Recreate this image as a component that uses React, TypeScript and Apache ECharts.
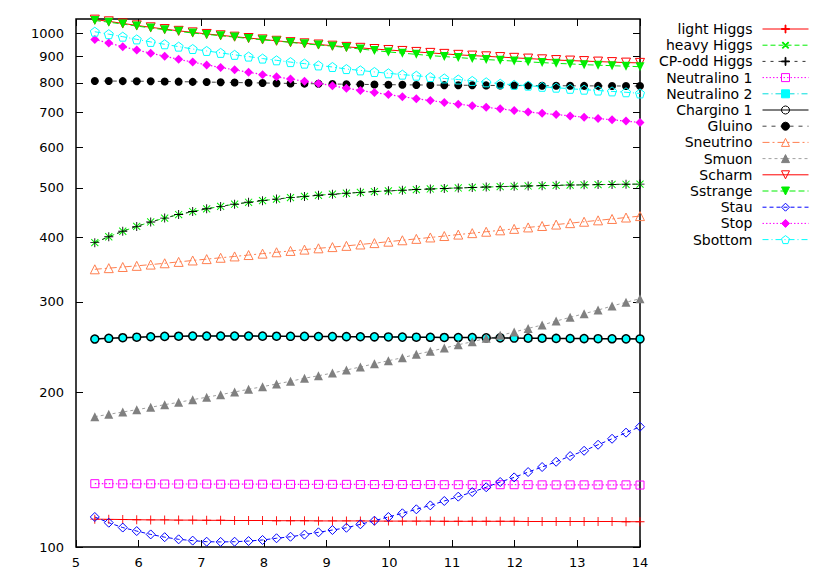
import React, { useEffect, useRef } from "react";
import * as echarts from "echarts";

const xValues = [
  5.3, 5.523, 5.746, 5.969, 6.192, 6.415, 6.638, 6.862, 7.085, 7.308,
  7.531, 7.754, 7.977, 8.2, 8.423, 8.646, 8.869, 9.092, 9.315, 9.538,
  9.762, 9.985, 10.208, 10.431, 10.654, 10.877, 11.1, 11.323, 11.546, 11.769,
  11.992, 12.215, 12.438, 12.662, 12.885, 13.108, 13.331, 13.554, 13.777, 14.0,
];

const lightHiggs = [
  113.3, 113.2, 113.1, 113.0, 112.9, 112.9, 112.8, 112.8, 112.7, 112.7,
  112.6, 112.6, 112.6, 112.5, 112.5, 112.5, 112.4, 112.4, 112.4, 112.4,
  112.3, 112.3, 112.3, 112.3, 112.3, 112.2, 112.2, 112.2, 112.2, 112.2,
  112.2, 112.1, 112.1, 112.1, 112.1, 112.1, 112.1, 112.1, 112.0, 112.0,
];
const heavyHiggs = [
  391, 401.5, 411.5, 420.5, 429, 436.5, 443.5, 449.5, 455, 460,
  464.5, 468.5, 472, 475.3, 478.3, 481, 483.5, 485.8, 487.9, 489.8,
  491.5, 493.1, 494.6, 496, 497.3, 498.5, 499.6, 500.6, 501.6, 502.5,
  503.3, 504.1, 504.8, 505.5, 506.1, 506.6, 507.1, 507.5, 507.9, 508.3,
];
const cpOddHiggs = [
  391, 401.5, 411.5, 420.5, 429, 436.5, 443.5, 449.5, 455, 460,
  464.5, 468.5, 472, 475.3, 478.3, 481, 483.5, 485.8, 487.9, 489.8,
  491.5, 493.1, 494.6, 496, 497.3, 498.5, 499.6, 500.6, 501.6, 502.5,
  503.3, 504.1, 504.8, 505.5, 506.1, 506.6, 507.1, 507.5, 507.9, 508.3,
];
const neutralino1 = [
  132.8, 132.8, 132.7, 132.7, 132.7, 132.6, 132.6, 132.6, 132.6, 132.5,
  132.5, 132.5, 132.5, 132.5, 132.4, 132.4, 132.4, 132.4, 132.4, 132.3,
  132.3, 132.3, 132.3, 132.3, 132.3, 132.2, 132.2, 132.2, 132.2, 132.2,
  132.2, 132.2, 132.1, 132.1, 132.1, 132.1, 132.1, 132.1, 132.1, 132.0,
];
const neutralino2 = [
  253.9, 254.7, 255.4, 256.0, 256.5, 256.9, 257.1, 257.3, 257.3, 257.3,
  257.3, 257.3, 257.2, 257.1, 257.0, 256.9, 256.8, 256.7, 256.6, 256.5,
  256.4, 256.3, 256.1, 256.0, 255.9, 255.7, 255.6, 255.5, 255.3, 255.2,
  255.0, 254.9, 254.8, 254.6, 254.5, 254.4, 254.3, 254.2, 254.1, 254.0,
];
const chargino1 = [
  253.9, 254.7, 255.4, 256.0, 256.5, 256.9, 257.1, 257.3, 257.3, 257.3,
  257.3, 257.3, 257.2, 257.1, 257.0, 256.9, 256.8, 256.7, 256.6, 256.5,
  256.4, 256.3, 256.1, 256.0, 255.9, 255.7, 255.6, 255.5, 255.3, 255.2,
  255.0, 254.9, 254.8, 254.6, 254.5, 254.4, 254.3, 254.2, 254.1, 254.0,
];
const gluino = [
  806.6, 806.5, 806.3, 806.0, 805.5, 805.0, 804.3, 803.6, 802.8, 802.0,
  801.2, 800.4, 799.6, 798.8, 798.0, 797.3, 796.6, 795.9, 795.2, 794.6,
  794.0, 793.5, 793.0, 792.6, 792.2, 791.8, 791.5, 791.2, 790.9, 790.6,
  790.4, 790.2, 790.0, 789.8, 789.6, 789.4, 789.2, 789.0, 788.8, 788.6,
];
const sneutrino = [
  347.0, 348.8, 350.6, 352.4, 354.4, 356.5, 358.7, 361.0, 363.2, 365.4,
  367.6, 369.9, 372.2, 374.5, 376.8, 379.0, 381.2, 383.3, 385.4, 387.8,
  390.2, 392.7, 395.2, 397.7, 400.2, 402.8, 405.4, 408.0, 410.6, 413.2,
  415.9, 418.6, 421.3, 424.0, 426.7, 429.4, 432.1, 434.8, 437.6, 440.4,
];
const smuon = [
  179.3, 181.2, 183.1, 185.0, 187.0, 189.2, 191.2, 193.5, 195.6, 197.9,
  200.3, 202.7, 205.1, 207.6, 210.1, 213.0, 215.4, 218.0, 221.0, 224.0,
  227.3, 230.4, 233.5, 237.1, 240.3, 243.8, 247.5, 250.8, 254.7, 258.1,
  262.0, 266.3, 270.3, 275.2, 279.8, 284.4, 289.1, 294.4, 299.3, 304.2,
];
const scharm = [
  1062, 1054, 1044, 1035, 1026, 1018, 1010, 1003, 996, 990,
  984, 978, 972, 966, 960, 955, 950, 945, 940, 936,
  931, 927, 923, 919, 915, 911, 907, 904, 901, 898,
  895, 892, 889, 886, 884, 882, 880, 878, 876, 875,
];
const sstrange = [
  1058, 1050, 1041, 1032, 1023, 1015, 1008, 1000, 994, 988,
  982, 976, 970, 965, 959, 953, 948, 943, 937, 931,
  925, 919, 914, 909, 904, 900, 896, 892, 888, 885,
  882, 879, 876, 873, 871, 868, 866, 864, 862, 860,
];
const stau = [
  114.4, 111.5, 109.1, 107.4, 105.8, 104.5, 103.5, 102.9, 102.4, 102.3,
  102.4, 102.7, 103.2, 104.0, 104.7, 105.7, 106.8, 107.9, 109.0, 110.7,
  112.5, 114.4, 116.3, 118.4, 120.5, 122.9, 125.3, 127.9, 130.7, 133.8,
  136.6, 139.9, 143.1, 146.5, 150.3, 153.9, 158.1, 162.4, 166.9, 171.4,
];
const stop = [
  972, 956, 941, 927, 914, 901, 889, 878, 867, 857,
  848, 839, 830, 822, 814, 806, 798, 790, 781, 773,
  766, 759, 752, 745, 739, 733, 727, 722, 717, 712,
  707, 702, 698, 694, 690, 686, 682, 678, 674, 670,
];
const sbottom = [
  1006, 995, 984, 972, 961, 951, 941, 931, 923, 915,
  907, 900, 892, 885, 878, 872, 865, 859, 851, 846,
  840, 835, 830, 826, 821, 816, 812, 807, 802, 797,
  793, 790, 786, 783, 779, 776, 773, 770, 767, 763,
];

const yTickValues = [100, 200, 300, 400, 500, 600, 700, 800, 900, 1000];
const xMin = 5;
const xMax = 14;
const xStep = 1;
const yMin = 100;
const yMax = 1065;

export default function App() {
  const ref = useRef<HTMLDivElement>(null);

  useEffect(() => {
    if (!ref.current) return;
    const chart = echarts.init(ref.current, undefined, { renderer: "svg" });
    const font = "'DejaVu Sans', Verdana, sans-serif";
    const plus = "path://M4.5,0h1v10h-1zM0,4.5h10v1h-10z";
    const pentagon = "path://M5,0L10,3.6L8.1,9.5L1.9,9.5L0,3.6Z";
    const open = (c: string) => ({ color: "rgba(255,255,255,0)", borderColor: c, borderWidth: 1 });
    const filled = (c: string) => ({ color: c, borderColor: c, borderWidth: 0 });

    const mk = (name: string, data: number[], o: any) => ({
      name,
      type: "line",
      xAxisIndex: 0,
      yAxisIndex: 0,
      data: xValues.map((x, i) => [x, data[i]]),
      symbol: o.symbol,
      symbolSize: o.size,
      symbolRotate: o.rotate || 0,
      itemStyle: o.item,
      lineStyle: { color: o.line, width: o.width || 1, type: o.dash || "solid" },
      emphasis: { disabled: true },
      clip: false,
    });

    const series = [
      mk("light Higgs", lightHiggs, { symbol: plus, size: 9, item: filled("#ff0000"), line: "#ff0000" }),
      mk("heavy Higgs", heavyHiggs, { symbol: plus, size: 10, rotate: 45, item: filled("#00ee00"), line: "#00ee00", dash: [5, 3] }),
      mk("CP-odd Higgs", cpOddHiggs, { symbol: plus, size: 9, item: filled("#000000"), line: "#333333", dash: [3, 5] }),
      mk("Neutralino 1", neutralino1, { symbol: "rect", size: 8, item: open("#ff00ff"), line: "#ff00ff", dash: [1.5, 2], width: 1.2 }),
      mk("Neutralino 2", neutralino2, { symbol: "rect", size: 7, item: filled("#00ffff"), line: "#00dddd", dash: [6, 3, 1, 3] }),
      mk("Chargino 1", chargino1, { symbol: "circle", size: 8, item: { color: "rgba(255,255,255,0)", borderColor: "#000", borderWidth: 1.5 }, line: "#000000", width: 1.5 }),
      mk("Gluino", gluino, { symbol: "circle", size: 8, item: filled("#000000"), line: "#444444", dash: [4, 5] }),
      mk("Sneutrino", sneutrino, { symbol: "triangle", size: 9, item: open("#ff7f50"), line: "#ff7f50", dash: [7, 3, 2, 3] }),
      mk("Smuon", smuon, { symbol: "triangle", size: 9, item: filled("#808080"), line: "#a0a0a0", dash: [3, 3] }),
      mk("Scharm", scharm, { symbol: "triangle", size: 9, rotate: 180, item: open("#ff0000"), line: "#ff0000" }),
      mk("Sstrange", sstrange, { symbol: "triangle", size: 9, rotate: 180, item: filled("#00ee00"), line: "#00ee00", dash: [6, 3] }),
      mk("Stau", stau, { symbol: "diamond", size: 9, item: open("#0000ff"), line: "#0000ff", dash: [4, 3] }),
      mk("Stop", stop, { symbol: "diamond", size: 9, item: filled("#ff00ff"), line: "#ff00ff", dash: [1.5, 2], width: 1.2 }),
      mk("Sbottom", sbottom, { symbol: pentagon, size: 9, item: open("#00ffff"), line: "#00ffff", dash: [6, 3, 1, 3] }),
    ];

    const tickLog = yTickValues.map((v) => Math.log10(v));

    chart.setOption({
      animation: false,
      backgroundColor: "#ffffff",
      textStyle: { fontFamily: font },
      grid: {
        left: 76,
        right: 188,
        top: 19,
        bottom: 33,
        show: true,
        borderColor: "#000",
        borderWidth: 1.5,
        backgroundColor: "rgba(0,0,0,0)",
      },
      legend: {
        orient: "vertical",
        right: 19,
        top: 21,
        padding: 0,
        itemWidth: 46,
        itemHeight: 10,
        itemGap: 0.2,
        align: "right",
        selectedMode: false,
        lineStyle: { width: 1 },
        itemStyle: { borderWidth: 1 },
        textStyle: { fontSize: 14, color: "#000", fontFamily: font, lineHeight: 16, padding: [0, 5, 0, 0] },
        data: series.map((s) => s.name),
      },
      xAxis: [
        {
          type: "value",
          position: "bottom",
          min: xMin,
          max: xMax,
          interval: xStep,
          axisLine: { show: false },
          splitLine: { show: false },
          axisTick: { show: true, inside: true, length: 7, lineStyle: { color: "#000", width: 1 } },
          axisLabel: { fontSize: 13, color: "#000", margin: 9, fontFamily: font },
        },
        {
          type: "value",
          position: "top",
          min: xMin,
          max: xMax,
          interval: xStep,
          axisLine: { show: false },
          splitLine: { show: false },
          axisTick: { show: true, inside: true, length: 7, lineStyle: { color: "#000", width: 1 } },
          axisLabel: { show: false },
        },
      ],
      yAxis: [
        {
          type: "log",
          logBase: 10,
          min: yMin,
          max: yMax,
          position: "left",
          show: false,
        },
        {
          type: "value",
          position: "left",
          min: Math.log10(yMin),
          max: Math.log10(yMax),
          axisLine: { show: false },
          splitLine: { show: false },
          axisTick: { show: true, inside: true, length: 7, customValues: tickLog, lineStyle: { color: "#000", width: 1 } },
          axisLabel: {
            show: true,
            customValues: tickLog,
            formatter: (v: number) => String(Math.round(Math.pow(10, v))),
            fontSize: 13,
            color: "#000",
            margin: 12,
            fontFamily: font,
          },
        },
        {
          type: "value",
          position: "right",
          min: Math.log10(yMin),
          max: Math.log10(yMax),
          axisLine: { show: false },
          splitLine: { show: false },
          axisTick: { show: true, inside: true, length: 7, customValues: tickLog, lineStyle: { color: "#000", width: 1 } },
          axisLabel: { show: false },
        },
      ],
      series,
    });

    return () => {
      chart.dispose();
    };
  }, []);

  return (
    <div
      ref={ref}
      style={{ position: "absolute", left: 0, top: 0, width: 828, height: 580 }}
    />
  );
}
